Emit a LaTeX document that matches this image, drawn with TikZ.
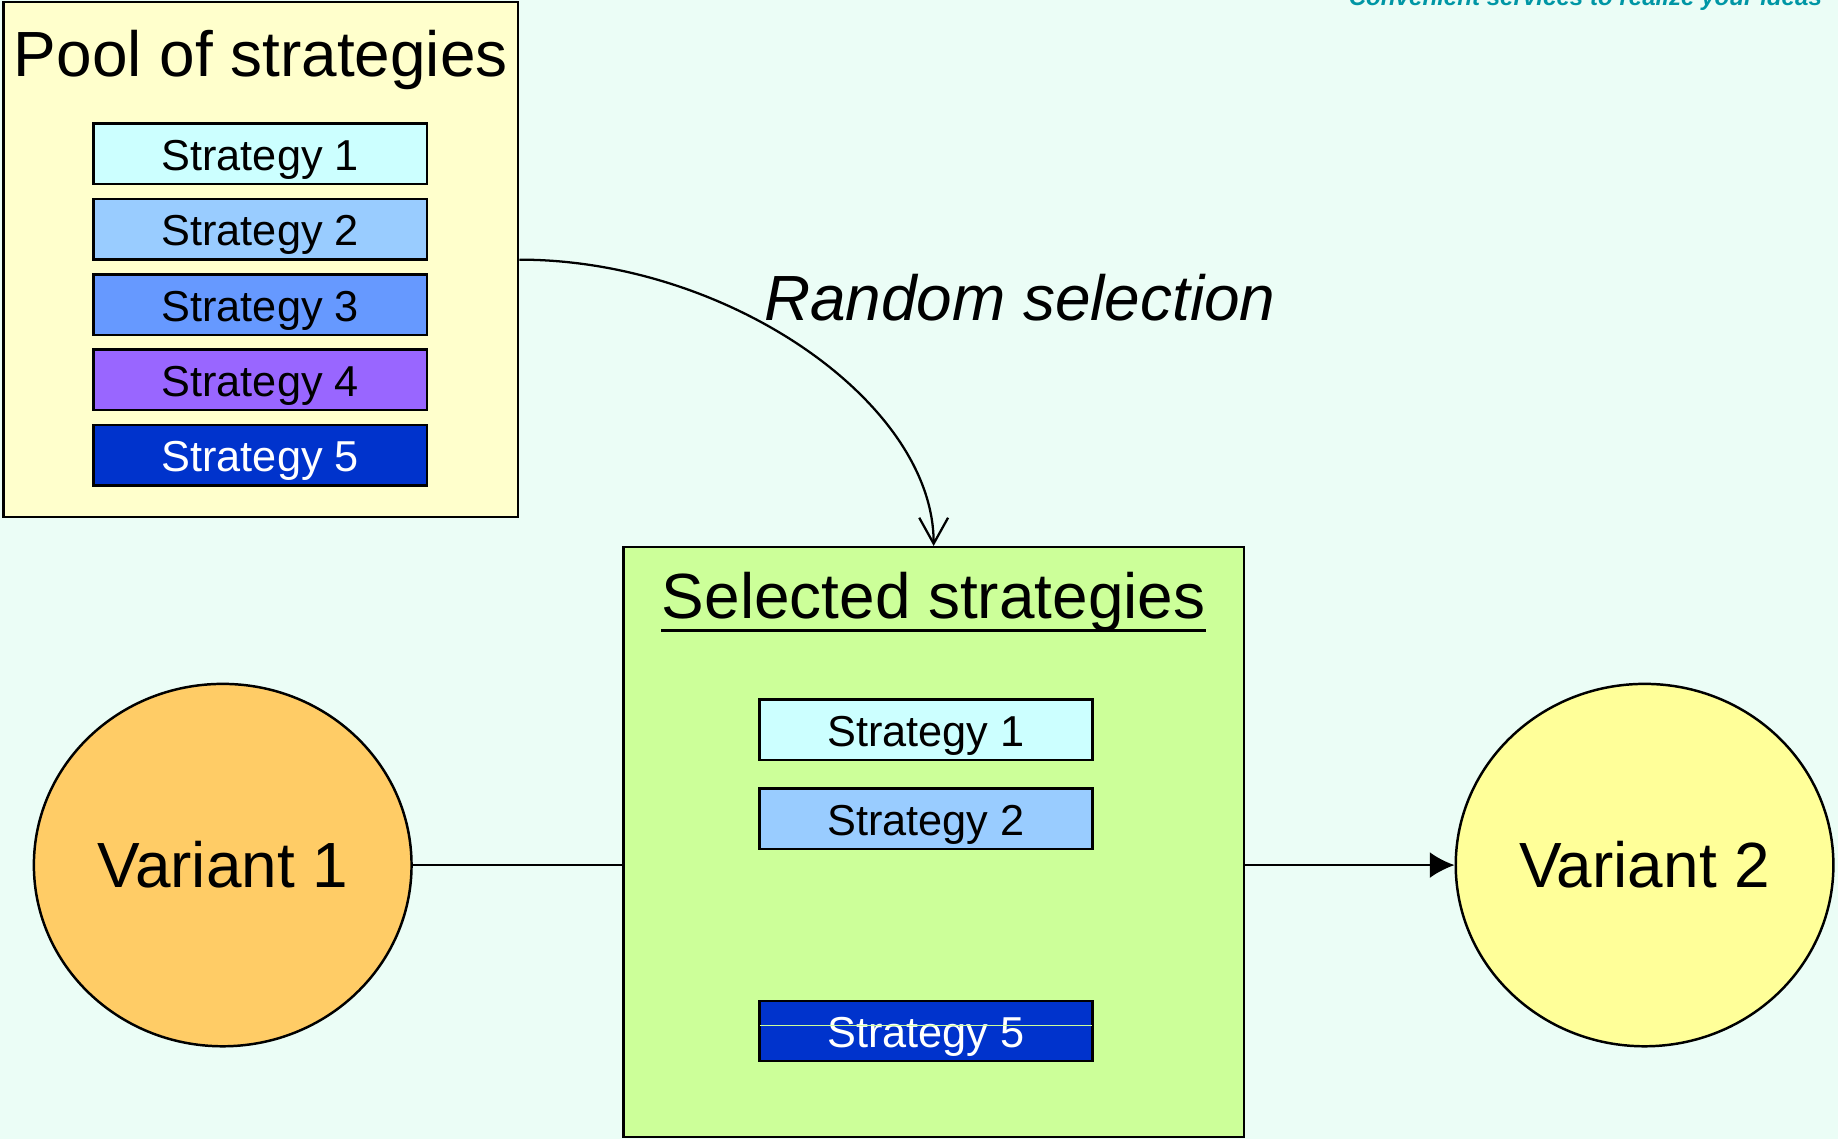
\documentclass[tikz,border=0pt]{standalone}
\usepackage{fontspec}
\setmainfont{Liberation Sans}
\usetikzlibrary{arrows.meta,shapes.geometric}
\definecolor{bgc}{RGB}{235,253,246}
\definecolor{poolc}{RGB}{255,255,204}
\definecolor{selc}{RGB}{204,255,153}
\definecolor{sone}{RGB}{204,255,255}
\definecolor{stwo}{RGB}{153,204,255}
\definecolor{sthree}{RGB}{102,153,255}
\definecolor{sfour}{RGB}{153,102,255}
\definecolor{sfive}{RGB}{0,51,204}
\definecolor{vone}{RGB}{255,204,102}
\definecolor{vtwo}{RGB}{255,255,153}
\definecolor{tealc}{RGB}{0,150,165}
\begin{document}
\begin{tikzpicture}[x=0.01cm,y=-0.01cm,
  stratbox/.style={draw=black, line width=0.6pt, minimum width=2.84cm, minimum height=0.515cm,
    inner sep=0pt, font=\fontsize{10.5}{12}\selectfont, text height=8pt, text depth=0pt},
  bigbox/.style={draw=black, line width=0.6pt, inner sep=0pt},
  bigtext/.style={inner sep=0pt, font=\fontsize{15.5}{18}\selectfont},
  variant/.style={ellipse, draw=black, line width=0.6pt, inner sep=0pt, minimum width=3.22cm,
    minimum height=3.09cm, font=\fontsize{15.5}{18}\selectfont, text height=11.1pt, text depth=0pt},
  conn/.style={draw=black, line width=0.55pt}
]
\useasboundingbox (0,0) rectangle (1568,972);
\fill[bgc] (0,0) rectangle (1568,972);

\begin{scope}
\clip (0,0) rectangle (1568,972);
\node[anchor=base east, inner sep=0pt, text=tealc, font=\fontsize{5.85}{7}\selectfont\bfseries\itshape] (tagline) at (1555,4.4) {Convenient services to realize your ideas};
\end{scope}

% Pool of strategies
\node[bigbox, fill=poolc, minimum width=4.39cm, minimum height=4.39cm] (pool) at (222.5,221.5) {};
\node[bigtext, anchor=base] (pooltitle) at (222.5,65) {Pool of strategies};
\node[stratbox, fill=sone] (p1) at (222,131) {Strategy 1};
\node[stratbox, fill=stwo] (p2) at (222,195.5) {Strategy 2};
\node[stratbox, fill=sthree] (p3) at (222,260) {Strategy 3};
\node[stratbox, fill=sfour] (p4) at (222,324) {Strategy 4};
\node[stratbox, fill=sfive, text=white] (p5) at (222,388.5) {Strategy 5};

% Selected strategies
\node[bigbox, fill=selc, minimum width=5.29cm, minimum height=5.03cm] (sel) at (796.5,718.5) {};
\node[bigtext, anchor=base] (seltitle) at (796.5,528) {Selected strategies};
\draw[line width=0.75pt] ([yshift=-2.9pt]seltitle.base west) -- ([yshift=-2.9pt]seltitle.base east);
\node[stratbox, fill=sone] (s1) at (790,622.5) {Strategy 1};
\node[stratbox, fill=stwo] (s2) at (790,698.5) {Strategy 2};
\node[stratbox, fill=sfive, text=white] (s5) at (790,879.5) {Strategy 5};
\draw[selc, line width=0.3pt] ([shift={(1.5,-4.5)}]s5.west) -- ([shift={(-1.5,-4.5)}]s5.east);

% Variants
\node[variant, fill=vone] (v1) at (190,738) {Variant 1};
\node[variant, fill=vtwo] (v2) at (1403,738) {Variant 2};

% Random selection label
\node[bigtext, anchor=base, font=\fontsize{15.5}{18}\selectfont\itshape] (randlabel) at (870,273) {Random selection};

% Connectors
\draw[conn, -{Straight Barb[length=6.3pt,width=7pt,line width=0.55pt]}]
  (pool.east) .. controls +(178,0) and +(0,-122) .. (sel.north);
\draw[conn] (v1.east) -- (v1.east -| sel.west);
\draw[conn, -{Latex[length=6pt,width=6.3pt]}] (sel.east |- v2.west) -- (v2.west);
\end{tikzpicture}
\end{document}
